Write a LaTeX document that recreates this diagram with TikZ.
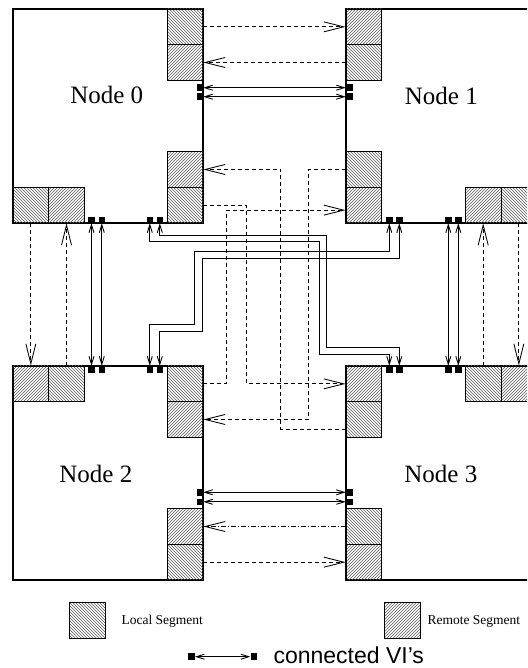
\documentclass[tikz,border=0pt]{standalone}
\usepackage{fontspec}
\setmainfont{Liberation Serif}
\setsansfont{Liberation Sans}
\usetikzlibrary{arrows.meta,patterns}

\begin{document}
\begin{tikzpicture}[x=1pt,y=-1pt]
  \tikzstyle{pnode}=[draw,line width=1.1pt,minimum width=190pt,minimum height=214pt,inner sep=0pt]
  \tikzstyle{seg}=[draw,line width=0.9pt,minimum size=35.67pt,inner sep=0pt,pattern color=black!65]
  \tikzstyle{loc}=[seg,pattern=north west lines]
  \tikzstyle{rem}=[seg,pattern=north east lines]
  \tikzstyle{vi}=[fill=black,minimum size=6.5pt,inner sep=0pt]
  \tikzstyle{title}=[font=\fontsize{25}{30}\selectfont]
  \tikzstyle{seglink}=[line width=0.85pt,dash pattern=on 4pt off 3pt,-{Straight Barb[length=20pt,width=10pt]}]
  \tikzstyle{vilink}=[line width=0.9pt,{Straight Barb[length=8pt,width=5pt]}-{Straight Barb[length=8pt,width=5pt]}]
  \useasboundingbox (0,0) rectangle (527,668);
  \clip (0,0) rectangle (527,668);
  % the four nodes
  \node[pnode] (N0) at (108,116) {};
  \node[pnode] (N1) at (441,116) {};
  \node[pnode] (N2) at (108,473) {};
  \node[pnode] (N3) at (441,473) {};
  \node[title] (t0) at (106.7,95.3) {Node 0};
  \node[title] (t1) at (441.3,96) {Node 1};
  \node[title] (t2) at (95.8,473.7) {Node 2};
  \node[title] (t3) at (440.8,473.7) {Node 3};
  % segments of node 0
  \node[loc] (b0r1) at (185.17,26.83) {};
  \node[rem] (b0r2) at (185.17,62.5) {};
  \node[rem] (b0r3) at (185.17,169.5) {};
  \node[loc] (b0r4) at (185.17,205.17) {};
  \node[loc] (b0b1) at (30.83,205.17) {};
  \node[rem] (b0b2) at (66.5,205.17) {};
  % segments of node 1
  \node[rem] (b1l1) at (363.83,26.83) {};
  \node[loc] (b1l2) at (363.83,62.5) {};
  \node[loc] (b1l3) at (363.83,169.5) {};
  \node[rem] (b1l4) at (363.83,205.17) {};
  \node[rem] (b1b1) at (483.17,205.17) {};
  \node[loc] (b1b2) at (518.83,205.17) {};
  % segments of node 2
  \node[rem] (b2t1) at (30.83,383.83) {};
  \node[loc] (b2t2) at (66.5,383.83) {};
  \node[loc] (b2r1) at (185.17,383.83) {};
  \node[rem] (b2r2) at (185.17,419.5) {};
  \node[rem] (b2r3) at (185.17,526.5) {};
  \node[loc] (b2r4) at (185.17,562.17) {};
  % segments of node 3
  \node[rem] (b3l1) at (363.83,383.83) {};
  \node[loc] (b3l2) at (363.83,419.5) {};
  \node[loc] (b3l3) at (363.83,526.5) {};
  \node[rem] (b3l4) at (363.83,562.17) {};
  \node[loc] (b3t1) at (483.17,383.83) {};
  \node[rem] (b3t2) at (518.83,383.83) {};
  % VI's
  \node[vi] (v0r1) at (199.75,87.7) {};
  \node[vi] (v0r2) at (199.75,96.7) {};
  \node[vi] (v1l1) at (349.25,87.7) {};
  \node[vi] (v1l2) at (349.25,96.7) {};
  \node[vi] (v0b1) at (91.5,219.75) {};
  \node[vi] (v0b2) at (101.8,219.75) {};
  \node[vi] (v0b3) at (149.8,219.75) {};
  \node[vi] (v0b4) at (159.8,219.75) {};
  \node[vi] (v1b1) at (389.3,219.75) {};
  \node[vi] (v1b2) at (399.3,219.75) {};
  \node[vi] (v1b3) at (448.3,219.75) {};
  \node[vi] (v1b4) at (458.3,219.75) {};
  \node[vi] (v2t1) at (91.5,369.25) {};
  \node[vi] (v2t2) at (101.8,369.25) {};
  \node[vi] (v2t3) at (149.8,369.25) {};
  \node[vi] (v2t4) at (159.8,369.25) {};
  \node[vi] (v3t1) at (389.3,369.25) {};
  \node[vi] (v3t2) at (399.3,369.25) {};
  \node[vi] (v3t3) at (448.3,369.25) {};
  \node[vi] (v3t4) at (458.3,369.25) {};
  \node[vi] (v2r1) at (199.75,492.3) {};
  \node[vi] (v2r2) at (199.75,501.8) {};
  \node[vi] (v3l1) at (349.25,492.3) {};
  \node[vi] (v3l2) at (349.25,501.8) {};
  % segment traffic
  \draw[seglink] (b0r1) -- (b1l1);
  \draw[seglink] (b1l2) -- (b0r2);
  \draw[seglink] (b0r4.east) -| ([xshift=-99pt]b3l1.west) -- (b3l1.west);
  \draw[seglink] (b2r1.east) -| ([xshift=-119pt,yshift=-5pt]b1l4.west) -- ([yshift=-5pt]b1l4.west);
  \draw[seglink] (b1l3.west) -| ([xshift=105pt]b2r2.east) -- (b2r2.east);
  \draw[seglink] ([yshift=-10pt]b3l2.west) -| ([xshift=77.4pt]b0r3.east) -- (b0r3.east);
  \draw[seglink] (b0b1) -- (b2t1);
  \draw[seglink] (b2t2) -- (b0b2);
  \draw[seglink] (b3t1) -- (b1b1);
  \draw[seglink] (b1b2) -- (b3t2);
  \draw[seglink,dash pattern=on 5pt off 2pt on 1pt off 2pt] (b3l3) -- (b2r3);
  \draw[seglink] (b2r4) -- (b3l4);
  % connected VI's
  \draw[vilink] (v0r1) -- (v1l1);
  \draw[vilink] (v0r2) -- (v1l2);
  \draw[vilink] (v2r1) -- (v3l1);
  \draw[vilink] (v2r2) -- (v3l2);
  \draw[vilink] (v0b1) -- (v2t1);
  \draw[vilink] (v0b2) -- (v2t2);
  \draw[vilink] (v1b3) -- (v3t3);
  \draw[vilink] (v1b4) -- (v3t4);
  \draw[vilink] (v0b3.south) |- (319.3,241.7) |- (389.3,354) -- (v3t1.north);
  \draw[vilink] (v0b4.south) |- (326.7,235) |- (399.3,347.7) -- (v3t2.north);
  \draw[vilink] (v1b1.south) |- (194.3,251.7) |- (149.8,324.3) -- (v2t3.north);
  \draw[vilink] (v1b2.south) |- (202.3,258.3) |- (159.8,331.7) -- (v2t4.north);
  % legend
  \node[loc] (lgl) at (87.3,620.3) {};
  \node[anchor=west,font=\fontsize{13.5}{16}\selectfont] (lglt) at (118,621) {Local Segment};
  \node[rem] (lgr) at (402.2,620.3) {};
  \node[anchor=west,font=\fontsize{13.5}{16}\selectfont] (lgrt) at (424,621) {Remote Segment};
  \node[vi] (lgv1) at (191.5,656.7) {};
  \node[vi] (lgv2) at (253.8,656.7) {};
  \draw[vilink] (lgv1) -- (lgv2);
  \node[anchor=west,font=\sffamily\fontsize{23}{27}\selectfont] (lgvt) at (270,655.5) {connected VI's};
\end{tikzpicture}
\end{document}
